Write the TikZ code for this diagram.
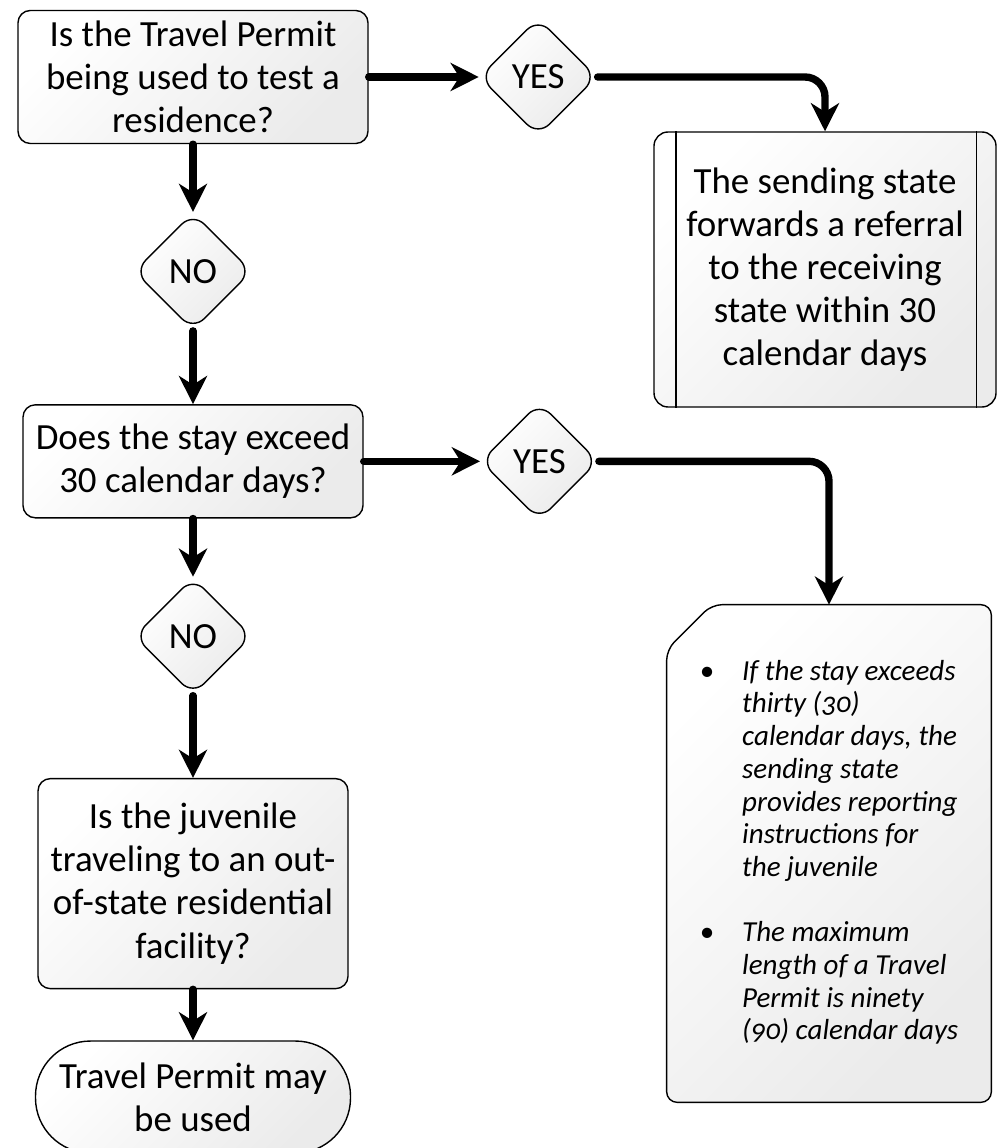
\documentclass[tikz,border=0pt]{standalone}
\usepackage{fontspec}
\setmainfont{Carlito}
\newfontfamily\notefont[Numbers=OldStyle]{Carlito}
\usepackage{tikz}
\usetikzlibrary{shapes.geometric, arrows.meta, positioning, backgrounds}
\newcommand{\flowfont}{\fontsize{21pt}{24.5pt}\selectfont}
\newcommand{\notesize}{\fontsize{16.5pt}{18.6pt}\selectfont}
\tikzset{
    shadebox/.style={top color=white, bottom color=black!8, shading angle=45},
    quest/.style={rectangle, rounded corners=7pt, draw=black, line width=0.8pt,
                  shadebox, align=center, font=\flowfont, inner sep=2pt},
    answer/.style={diamond, rounded corners=9pt, draw=black, line width=0.8pt,
                   shadebox, minimum width=2.35cm, minimum height=2.35cm,
                   inner sep=0pt, font=\flowfont},
    predef/.style={rectangle, rounded corners=8pt, draw=black, line width=0.8pt,
                   shadebox, minimum width=6.84cm, minimum height=5.5cm,
                   align=center, font=\flowfont},
    terminal/.style={rectangle, rounded corners=1.1cm, draw=black, line width=0.8pt,
                     shadebox, minimum width=6.3cm, minimum height=2.24cm,
                     align=center, font=\flowfont, inner sep=0pt},
    arr/.style={line width=4.2pt, line cap=round,
                -{Stealth[length=16pt, width=16pt, inset=5pt]}},
}
\begin{document}
\begin{tikzpicture}
    \useasboundingbox (0,0) rectangle (19.94,-22.96);
    \node[quest, minimum width=7cm, minimum height=2.66cm] (test) at (3.86,-1.54)
        {Is the Travel Permit\\being used to test a\\residence?};
    \node[answer, below=1.355cm of test] (no1) {NO};
    \node[quest, minimum width=6.8cm, minimum height=2.26cm, below=1.465cm of no1] (exceed)
        {Does the stay exceed\\30 calendar days?};
    \node[answer, below=1.165cm of exceed] (no2) {NO};
    \node[quest, minimum width=6.2cm, minimum height=4.2cm, below=1.645cm of no2] (juvenile)
        {Is the juvenile\\traveling to an out-\\of-state residential\\facility?};
    \node[terminal, below=1.02cm of juvenile] (mayuse) {Travel Permit may\\be used};
    \node[answer, right=2.2cm of test] (yes1) {YES};
    \node[answer, right=2.325cm of exceed] (yes2) {YES};
    \node[predef] (referral) at (16.5,-5.39)
        {The sending state\\forwards a referral\\to the receiving\\state within 30\\calendar days};
    \draw[line width=0.8pt] ([xshift=0.45cm]referral.north west) -- ([xshift=0.45cm]referral.south west);
    \draw[line width=0.8pt] ([xshift=-0.4cm]referral.north east) -- ([xshift=-0.4cm]referral.south east);
    \node[minimum width=6.48cm, minimum height=9.94cm, font=\notefont\notesize\itshape] (card) at (16.58,-17.07)
        {\begin{tabular}{@{}p{0.85cm}@{}l@{}}
            \textbullet & If the stay exceeds\\
                        & thirty (30)\\
                        & calendar days, the\\
                        & sending state\\
                        & provides reporting\\
                        & instructions for\\
                        & the juvenile\\
                        & \\
            \textbullet & The maximum\\
                        & length of a Travel\\
                        & Permit is ninety\\
                        & (90) calendar days
         \end{tabular}};
    \begin{scope}[on background layer]
        \draw[shadebox, line width=0.8pt, rounded corners=6pt]
            ([xshift=0.9cm]card.north west) -- (card.north east) -- (card.south east)
            -- (card.south west) -- ([yshift=-0.9cm]card.north west) -- cycle;
    \end{scope}

    \draw[arr] (test) -- (no1);
    \draw[arr] (no1) -- (exceed);
    \draw[arr] (exceed) -- (no2);
    \draw[arr] (no2) -- (juvenile);
    \draw[arr] (juvenile) -- (mayuse);
    \draw[arr] (test) -- (yes1);
    \draw[arr] (exceed) -- (yes2);
    \draw[arr, rounded corners=0.4cm] (yes1) -| (referral);
    \draw[arr, rounded corners=0.4cm] (yes2) -| (card);
\end{tikzpicture}
\end{document}
